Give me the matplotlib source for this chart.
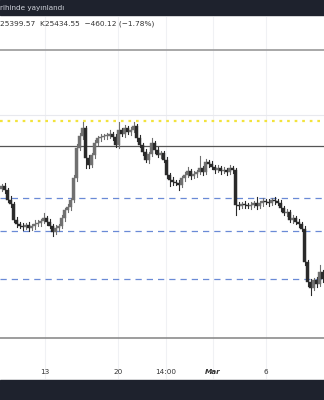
import matplotlib
matplotlib.use("Agg")
import matplotlib.pyplot as plt
import numpy as np

# ---- data ----
closes = [26330, 26290, 26190, 26150, 25990, 25950, 25930, 25920, 25940, 25910,
          25930, 25950, 25960, 25980, 26010, 25970, 25930, 25870, 25910, 25930,
          26010, 26090, 26120, 26190, 26410, 26710, 26830, 26910, 26610, 26540,
          26640, 26760, 26810, 26820, 26830, 26830, 26850, 26820, 26740, 26890,
          26850, 26910, 26870, 26890, 26930, 26810, 26740, 26670, 26590, 26650,
          26760, 26690, 26640, 26660, 26590, 26440, 26390, 26370, 26360, 26340,
          26410, 26440, 26480, 26430, 26450, 26470, 26510, 26470, 26570, 26550,
          26520, 26490, 26510, 26480, 26490, 26470, 26510, 26490, 26140, 26130,
          26150, 26140, 26130, 26140, 26160, 26130, 26160, 26180, 26170, 26160,
          26190, 26180, 26160, 26110, 26060, 26070, 25990, 26010, 25970, 25950,
          25900, 25570, 25370, 25310, 25390, 25350, 25470, 25400]
up_wick = [20, 30, 20, 40, 20, 30, 20, 30, 20, 30,
           20, 40, 30, 20, 50, 20, 30, 20, 30, 20,
           30, 20, 30, 20, 30, 40, 30, 60, 20, 30,
           20, 30, 20, 30, 20, 30, 40, 20, 30, 80,
           20, 30, 20, 30, 40, 20, 30, 20, 30, 20,
           50, 20, 30, 20, 20, 30, 20, 30, 20, 30,
           20, 30, 40, 20, 30, 20, 120, 20, 30, 20,
           30, 20, 30, 20, 30, 20, 30, 20, 20, 30,
           20, 30, 20, 30, 20, 60, 20, 30, 20, 30,
           20, 30, 20, 30, 20, 30, 20, 30, 20, 30,
           20, 30, 20, 30, 20, 30, 70, 20]
down_wick = [20, 30, 20, 30, 20, 30, 20, 30, 20, 30,
             20, 30, 20, 30, 20, 30, 20, 40, 20, 30,
             20, 30, 20, 30, 20, 30, 20, 30, 100, 30,
             20, 30, 20, 30, 20, 30, 20, 30, 20, 30,
             20, 30, 20, 30, 20, 30, 20, 30, 20, 30,
             20, 30, 20, 30, 20, 30, 60, 30, 20, 50,
             20, 30, 20, 30, 20, 30, 20, 30, 20, 30,
             20, 30, 20, 30, 20, 30, 20, 30, 100, 30,
             20, 30, 20, 30, 20, 30, 20, 30, 20, 30,
             20, 30, 20, 30, 20, 30, 20, 30, 20, 30,
             20, 30, 40, 70, 20, 30, 20, 30]
first_open = 26300

yellow_level = 26980
solid_level = 26730
blue_levels = [26210, 25880, 25400]
frame_top = 27690
frame_bottom = 24810
faint_level = 27040

tick_pos = [14.5, 38.8, 54.8, 70.5, 88.2]
tick_labels = ["13", "20", "14:00", "Mar", "6"]

header_text = "rihinde yayınlandı"
ohlc_text = "25399.57  K25434.55  \u2212460.12 (\u22121.78%)"

# ---- figure ----
fig = plt.figure(figsize=(3.24, 4.0), dpi=100)
ax = fig.add_axes([0, 0, 1, 1])
n = len(closes)
ax.set_xlim(-0.5, n - 0.5)
ax.set_ylim(24190, 28190)
ax.axis("off")

def py(p):  # pixel-from-top -> price (for layout only)
    return 28190 - p * 10

# vertical grid
for x in tick_pos:
    ax.plot([x, x], [py(378), py(17)], color="#f0f1f4", lw=0.8, zorder=1)
ax.axhline(faint_level, color="#e8e9ee", lw=0.8, zorder=1)

# backgrounds
ax.axhspan(py(15), py(0), color="#1e222d", zorder=5)
ax.axhspan(py(400), py(380), color="#1e222d", zorder=5)

# level lines
ax.axhline(frame_top, color="#9a9a9a", lw=1.2, zorder=2)
ax.axhline(frame_bottom, color="#8c8c8c", lw=1.2, zorder=2)
ax.axhline(solid_level, color="#555555", lw=0.9, zorder=2)
ax.axhline(yellow_level, color="#f2e33c", lw=1.6, ls=(0, (1.2, 2.2)), zorder=2)
for lv in blue_levels:
    ax.axhline(lv, color="#6a8ad6", lw=0.9, ls=(0, (5, 4)), zorder=2)

# candles
opens = [first_open] + closes[:-1]
for i in range(n):
    o, c = opens[i], closes[i]
    hi = max(o, c) + up_wick[i]
    lo = min(o, c) - down_wick[i]
    up = c >= o
    col = "#707070" if up else "#2a2a2a"
    ax.plot([i, i], [lo, hi], color=col, lw=0.8, zorder=3)
    h = max(abs(c - o), 8)
    ax.bar(i, h, bottom=min(o, c), width=0.7, color=col, edgecolor=col,
           linewidth=0.3, zorder=4)

# texts
fig.text(0.0, 1 - 8 / 400, header_text, color="#d1d4dc", fontsize=5.2,
         va="center", ha="left", zorder=6)
fig.text(0.0, 1 - 24 / 400, ohlc_text, color="#333333", fontsize=5.3,
         va="center", ha="left")
for x, lab in zip(tick_pos, tick_labels):
    ax.text(x, py(372), lab, color="#333333", fontsize=5.2, ha="center",
            va="center", fontweight="bold" if lab == "Mar" else "normal",
            fontstyle="italic" if lab == "Mar" else "normal")

fig.savefig("out.png", dpi=100)
